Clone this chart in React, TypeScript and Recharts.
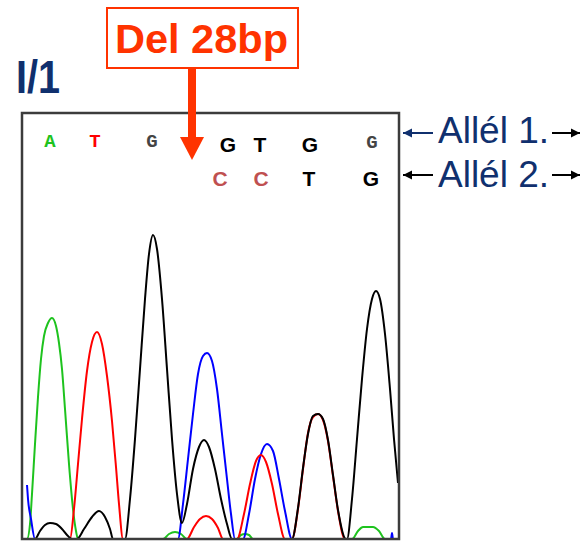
import { Line, LineChart, XAxis, YAxis } from 'recharts'

// trace points: [scan position, signal]
const greenTrace: [number, number][] = [
  [0, 0], [5, 0], [8, 15], [10, 45], [13, 95], [16, 142], [19, 180], [22, 203], [26, 216], [30, 221],
  [34, 213], [37, 196], [40, 170], [43, 130], [47, 75], [51, 30], [54, 8], [56, 0],
  [141, 0], [147, 5], [153, 7], [159, 5], [165, 0],
  [215, 0], [219, 4], [223, 5], [227, 4], [231, 0],
  [330, 0], [336, 8], [341, 12], [351, 12], [357, 8], [363, 0], [378, 0],
]

const redTrace: [number, number][] = [
  [0, 0], [48, 0], [52, 30], [56, 75], [60, 120], [65, 168], [70, 197], [75, 207], [80, 195],
  [85, 163], [90, 118], [94, 72], [97, 35], [101, 0],
  [165, 0], [172, 12], [178, 20], [184, 23], [190, 20], [196, 11], [201, 0],
  [215, 0], [222, 25], [228, 55], [234, 78], [239, 84], [244, 77], [250, 55], [256, 25], [263, 0],
  [270, 0], [276, 30], [281, 70], [286, 106], [291, 122], [296, 125], [301, 119], [306, 98],
  [311, 63], [316, 28], [323, 0], [378, 0],
]

const blueTrace: [number, number][] = [
  [5, 54], [6, 40], [9, 20], [13, 0],
  [156, 0], [161, 35], [166, 80], [171, 125], [176, 165], [181, 183], [185, 186], [190, 178],
  [195, 150], [200, 105], [205, 60], [209, 25], [213, 0],
  [221, 0], [227, 25], [233, 60], [239, 85], [245, 95], [251, 88], [257, 60], [263, 28], [270, 0],
  [369, 0], [370, 6], [371, 0], [378, 0],
]

const blackTrace: [number, number][] = [
  [0, 0], [13, 0], [18, 8], [23, 14], [28, 16], [34, 15], [40, 10], [45, 4], [50, 0],
  [55, 0], [62, 10], [70, 22], [77, 28], [83, 22], [88, 10], [91, 0],
  [103, 0], [108, 40], [113, 100], [118, 170], [123, 240], [127, 285], [131, 304], [135, 290],
  [140, 240], [145, 170], [150, 100], [155, 45], [160, 16],
  [165, 35], [171, 70], [177, 92], [182, 99], [187, 92], [193, 70], [199, 40], [205, 15], [210, 0],
  [270, 0], [276, 31], [281, 71], [286, 105], [291, 123], [296, 125], [301, 120], [306, 99],
  [311, 64], [316, 29], [324, 0],
  [325, 0], [330, 40], [335, 100], [340, 160], [345, 210], [350, 240], [354, 248], [358, 240],
  [363, 205], [368, 150], [372, 100], [376, 56],
]

const topCalls = ['A', 'T', 'G']
const allele1 = ['G', 'T', 'G', 'G']
const allele2 = ['C', 'C', 'T', 'G']

const toPoints = (t: [number, number][]) => t.map(([x, y]) => ({ x, y }))

const traces = [
  { name: 'A', data: toPoints(greenTrace), color: '#1ec31e' },
  { name: 'C', data: toPoints(blueTrace), color: '#0000ff' },
  { name: 'T', data: toPoints(redTrace), color: '#ff0000' },
  { name: 'G', data: toPoints(blackTrace), color: '#000000' },
]

const navy = '#10306e'
const orange = '#ff3300'

function Arrow({ x1, x2, y, color, dir }: { x1: number; x2: number; y: number; color: string; dir: 'l' | 'r' }) {
  const tip = dir === 'l' ? x1 : x2
  const back = dir === 'l' ? tip + 9 : tip - 9
  return (
    <g>
      <line x1={x1} x2={x2} y1={y} y2={y} stroke={color} strokeWidth={2} />
      <polygon points={`${tip},${y} ${back},${y - 4.5} ${back},${y + 4.5}`} fill={color} />
    </g>
  )
}

export default function App() {
  const sans = '"Liberation Sans", Arial, sans-serif'
  const mono = '"Liberation Mono", monospace'
  return (
    <div style={{ position: 'absolute', left: 0, top: 0, width: 581, height: 543, background: '#fff' }}>
      <LineChart
        width={581}
        height={543}
        margin={{ top: 113, right: 181, bottom: 4, left: 22 }}
        style={{ position: 'absolute', left: 0, top: 0 }}
      >
        <XAxis dataKey="x" type="number" domain={[0, 378]} hide allowDataOverflow />
        <YAxis type="number" domain={[0, 426]} hide allowDataOverflow />
        {traces.map((t) => (
          <Line
            key={t.name}
            data={t.data}
            dataKey="y"
            type="monotone"
            stroke={t.color}
            strokeWidth={2}
            dot={false}
            isAnimationActive={false}
          />
        ))}
      </LineChart>
      <svg width={581} height={543} style={{ position: 'absolute', left: 0, top: 0, pointerEvents: 'none' }}>
        <rect x={22} y={113} width={377} height={426} fill="none" stroke="#3c3c3c" strokeWidth={2.5} />

        <text x={16} y={93} fontFamily={sans} fontWeight="bold" fontSize={47} fill={navy} textLength={44} lengthAdjust="spacingAndGlyphs">
          I/1
        </text>

        <rect x={107} y={8} width={191} height={60} fill="#fff" stroke={orange} strokeWidth={2} />
        <text x={115} y={53} fontFamily={sans} fontWeight="bold" fontSize={41} fill={orange} textLength={173} lengthAdjust="spacingAndGlyphs">
          Del 28bp
        </text>
        <rect x={188} y={68} width={8} height={72} fill={orange} />
        <polygon points="180,137 204,137 192,160" fill={orange} />

        {topCalls.map((c, i) => (
          <text
            key={'t' + i}
            x={[50, 95, 152][i]}
            y={147}
            textAnchor="middle"
            fontFamily={mono}
            fontWeight="bold"
            fontSize={19}
            fill={['#1ec31e', '#ff0000', '#444'][i]}
          >
            {c}
          </text>
        ))}
        {allele1.map((c, i) => (
          <text
            key={'a' + i}
            x={[228, 260, 310, 372][i]}
            y={i === 3 ? 148 : 152}
            textAnchor="middle"
            fontFamily={i === 3 ? mono : sans}
            fontWeight="bold"
            fontSize={i === 3 ? 19 : 21}
            fill={i === 3 ? '#444' : '#000'}
          >
            {c}
          </text>
        ))}
        {allele2.map((c, i) => (
          <text
            key={'b' + i}
            x={[220, 261, 309, 371][i]}
            y={186}
            textAnchor="middle"
            fontFamily={sans}
            fontWeight="bold"
            fontSize={21}
            fill={i < 2 ? '#bf5050' : '#000'}
          >
            {c}
          </text>
        ))}

        <Arrow x1={403} x2={433} y={133} color={navy} dir="l" />
        <text x={438} y={143} fontFamily={sans} fontSize={37} fill={navy}>
          Allél 1.
        </text>
        <Arrow x1={552} x2={580} y={133} color="#000" dir="r" />

        <Arrow x1={403} x2={433} y={175} color="#000" dir="l" />
        <text x={438} y={187} fontFamily={sans} fontSize={37} fill={navy}>
          Allél 2.
        </text>
        <Arrow x1={552} x2={580} y={175} color="#000" dir="r" />
      </svg>
    </div>
  )
}
